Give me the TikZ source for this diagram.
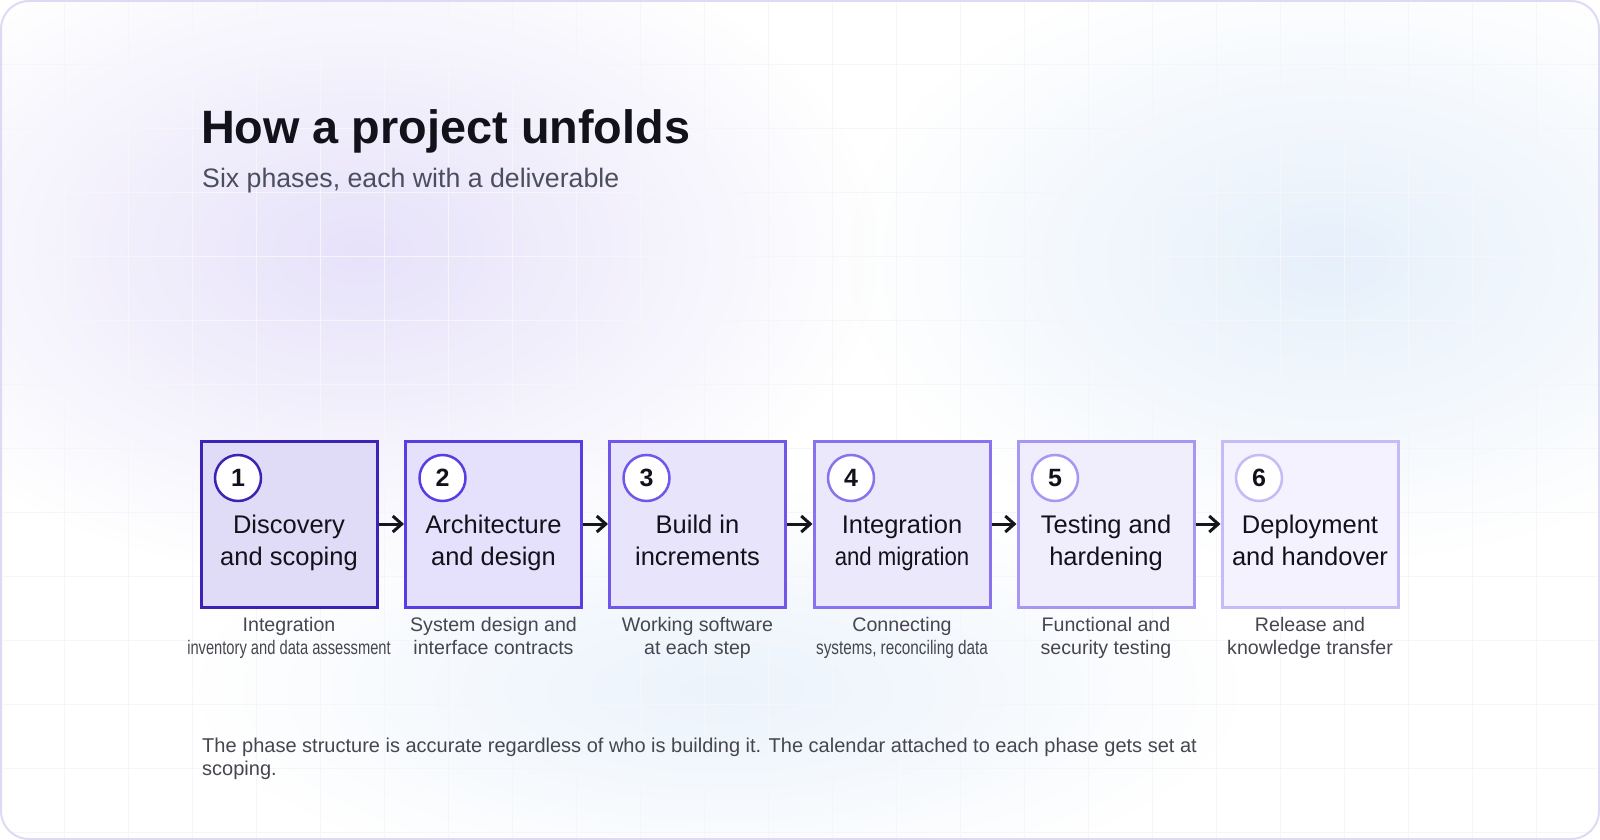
\documentclass[tikz,border=0pt]{standalone}
\usepackage{fontspec}
\setmainfont{Liberation Sans}
\usetikzlibrary{arrows.meta,fadings}
\tikzfading[name=glow, inner color=transparent!0, outer color=transparent!100]
\definecolor{framec}{HTML}{DEDAF5}
\definecolor{gridc}{HTML}{F5F5FA}
\definecolor{lavglow}{HTML}{E7E2FA}
\definecolor{blueglow}{HTML}{E6F0FB}
\definecolor{titlec}{HTML}{12121A}
\definecolor{subc}{HTML}{4A4E5E}
\definecolor{capc}{HTML}{45464F}
\definecolor{arrc}{HTML}{15151C}
\definecolor{ca}{HTML}{3D22B5}\definecolor{fa}{HTML}{E0DBF7}
\definecolor{cb}{HTML}{5A3DE2}\definecolor{fb}{HTML}{E5E0FB}
\definecolor{cc}{HTML}{7256EA}\definecolor{fc}{HTML}{E8E4FB}
\definecolor{cd}{HTML}{8A72EE}\definecolor{fd}{HTML}{ECE8FC}
\definecolor{ce}{HTML}{A896F4}\definecolor{fe}{HTML}{F0EDFD}
\definecolor{cf}{HTML}{C6BAF7}\definecolor{ff}{HTML}{F4F2FE}
\tikzset{
  phasebox/.style={rectangle, minimum width=176pt, minimum height=166pt, line width=3pt, inner sep=0pt},
  numdot/.style={circle, fill=white, line width=2.5pt, minimum size=46pt, inner sep=0pt, font=\fontsize{25}{25}\selectfont\bfseries, text=titlec},
  phasetxt/.style={align=center, anchor=base, font=\fontsize{25.5}{32}\selectfont, text=titlec, inner sep=0pt},
  captxt/.style={align=center, anchor=base, font=\fontsize{19.6}{23}\selectfont, text=capc, inner sep=0pt},
  flow/.style={draw=arrc, line width=3pt, -{Straight Barb[length=9pt,width=16pt]}}
}
\begin{document}
\begin{tikzpicture}[x=1pt,y=-1pt]
\useasboundingbox (0,0) rectangle (1600,840);
% background
\begin{scope}
\clip[rounded corners=28pt] (1,1) rectangle (1599,839);
\fill[white] (0,0) rectangle (1600,840);
\fill[lavglow, path fading=glow] (360,250) ellipse [x radius=520pt, y radius=330pt];
\fill[blueglow, path fading=glow] (1330,260) ellipse [x radius=480pt, y radius=300pt];
\fill[blueglow, path fading=glow, fill opacity=0.8] (720,690) ellipse [x radius=520pt, y radius=200pt];
\foreach \gx in {64,128,...,1599} \draw[gridc, line width=0.6pt] (\gx,0) -- (\gx,840);
\foreach \gy in {64,128,...,839} \draw[gridc, line width=0.6pt] (0,\gy) -- (1600,\gy);
\end{scope}
\draw[framec, line width=2pt, rounded corners=28pt] (1,1) rectangle (1599,839);
% titles
\node[anchor=base west, inner sep=0pt, font=\fontsize{46.8}{50}\selectfont\bfseries, text=titlec] (title) at (201,143) {How a project unfolds};
\node[anchor=base west, inner sep=0pt, font=\fontsize{26.7}{30}\selectfont, text=subc] (subtitle) at (202,187) {Six phases, each with a deliverable};
% boxes
\node[phasebox, draw=ca, fill=fa] (b1) at (289,524) {};
\node[phasebox, draw=cb, fill=fb] (b2) at (493.5,524) {};
\node[phasebox, draw=cc, fill=fc] (b3) at (697.5,524) {};
\node[phasebox, draw=cd, fill=fd] (b4) at (902,524) {};
\node[phasebox, draw=ce, fill=fe] (b5) at (1106,524) {};
\node[phasebox, draw=cf, fill=ff] (b6) at (1310,524) {};
% number circles
\node[numdot, draw=ca] (n1) at (238,478) {1};
\node[numdot, draw=cb] (n2) at (442.5,478) {2};
\node[numdot, draw=cc] (n3) at (646.5,478) {3};
\node[numdot, draw=cd] (n4) at (851,478) {4};
\node[numdot, draw=ce] (n5) at (1055,478) {5};
\node[numdot, draw=cf] (n6) at (1259,478) {6};
% phase names (anchor = baseline of last line)
\node[phasetxt] (t1) at (289,565) {Discovery\\and scoping};
\node[phasetxt] (t2) at (493.5,565) {Architecture\\and design};
\node[phasetxt] (t3) at (697.5,565) {Build in\\increments};
\node[phasetxt] (t4) at (902,565) {Integration\\\scalebox{0.87}[1]{and migration}};
\node[phasetxt] (t5) at (1106,565) {Testing and\\hardening};
\node[phasetxt] (t6) at (1310,565) {Deployment\\and handover};
% connectors
\draw[flow] (b1.east) -- (b2.west);
\draw[flow] (b2.east) -- (b3.west);
\draw[flow] (b3.east) -- (b4.west);
\draw[flow] (b4.east) -- (b5.west);
\draw[flow] (b5.east) -- (b6.west);
% captions
\node[captxt] (c1) at (289,654) {Integration\\\scalebox{0.75}[1]{inventory and data assessment}};
\node[captxt] (c2) at (493.5,654) {System design and\\interface contracts};
\node[captxt] (c3) at (697.5,654) {Working software\\at each step};
\node[captxt] (c4) at (902,654) {Connecting\\\scalebox{0.78}[1]{systems, reconciling data}};
\node[captxt] (c5) at (1106,654) {Functional and\\security testing};
\node[captxt] (c6) at (1310,654) {Release and\\knowledge transfer};
% footnote
\node[anchor=base west, align=left, inner sep=0pt, font=\fontsize{20}{23}\selectfont, text=capc] (note) at (202,775) {The phase structure is accurate regardless of who is building it. The calendar attached to each phase gets set at\\scoping.};
\end{tikzpicture}
\end{document}
